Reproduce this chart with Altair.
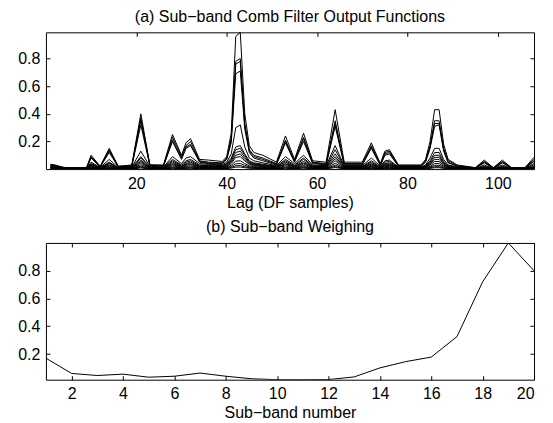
import altair as alt
import pandas as pd

FONT = "Liberation Sans"

# ---------------- panel (a): comb filter outputs ----------------
LAGS = [1, 2, 4, 8, 9, 10, 12, 14, 16, 19,
        21, 23, 26, 28, 30, 31, 32, 34, 36, 39,
        40, 41, 42, 43, 44, 45, 46, 48, 51, 53,
        55, 57, 59, 62, 64, 66, 70, 72, 74, 75,
        76, 78, 83, 84, 85, 86, 87, 88, 89, 91,
        95, 97, 99, 101, 103, 106, 108]

S1 = [0.035, 0.03, 0.012, 0.01, 0.012, 0.10, 0.02, 0.15, 0.02, 0.03,
      0.40, 0.03, 0.03, 0.25, 0.10, 0.19, 0.22, 0.07, 0.065, 0.055,
      0.09, 0.26, 0.96, 0.99, 0.40, 0.17, 0.12, 0.10, 0.05, 0.24,
      0.07, 0.26, 0.06, 0.05, 0.43, 0.05, 0.05, 0.19, 0.04, 0.13,
      0.14, 0.03, 0.03, 0.07, 0.20, 0.43, 0.43, 0.18, 0.07, 0.03,
      0.01, 0.065, 0.01, 0.065, 0.01, 0.01, 0.086]
S2 = [0.03, 0.025, 0.01, 0.008, 0.01, 0.09, 0.018, 0.14, 0.02, 0.025,
      0.37, 0.03, 0.025, 0.23, 0.09, 0.17, 0.20, 0.06, 0.05, 0.045,
      0.08, 0.22, 0.78, 0.80, 0.33, 0.14, 0.10, 0.08, 0.04, 0.21,
      0.06, 0.23, 0.05, 0.04, 0.35, 0.04, 0.04, 0.17, 0.035, 0.12,
      0.13, 0.025, 0.025, 0.06, 0.17, 0.35, 0.35, 0.15, 0.06, 0.025,
      0.01, 0.055, 0.01, 0.055, 0.01, 0.01, 0.07]
S3 = [0.028, 0.022, 0.01, 0.008, 0.01, 0.085, 0.017, 0.13, 0.018, 0.022,
      0.35, 0.028, 0.022, 0.21, 0.08, 0.16, 0.18, 0.055, 0.045, 0.04,
      0.075, 0.21, 0.76, 0.78, 0.32, 0.13, 0.09, 0.07, 0.035, 0.20,
      0.055, 0.22, 0.045, 0.035, 0.33, 0.035, 0.035, 0.16, 0.03, 0.11,
      0.12, 0.02, 0.02, 0.055, 0.16, 0.33, 0.33, 0.14, 0.05, 0.02,
      0.008, 0.05, 0.008, 0.05, 0.008, 0.008, 0.06]
S4 = [0.025, 0.02, 0.008, 0.006, 0.008, 0.08, 0.015, 0.12, 0.016, 0.02,
      0.32, 0.025, 0.02, 0.20, 0.07, 0.15, 0.17, 0.05, 0.04, 0.035,
      0.07, 0.19, 0.69, 0.71, 0.29, 0.12, 0.08, 0.06, 0.03, 0.19,
      0.05, 0.20, 0.04, 0.03, 0.31, 0.03, 0.03, 0.15, 0.025, 0.10,
      0.11, 0.02, 0.02, 0.05, 0.15, 0.31, 0.32, 0.13, 0.045, 0.02,
      0.007, 0.045, 0.007, 0.045, 0.007, 0.007, 0.055]
S5 = [0.02, 0.015, 0.006, 0.005, 0.006, 0.05, 0.012, 0.07, 0.012, 0.015,
      0.13, 0.02, 0.015, 0.09, 0.04, 0.08, 0.09, 0.04, 0.035, 0.03,
      0.05, 0.11, 0.30, 0.32, 0.16, 0.08, 0.06, 0.045, 0.025, 0.09,
      0.04, 0.10, 0.03, 0.025, 0.17, 0.025, 0.025, 0.08, 0.02, 0.06,
      0.065, 0.015, 0.015, 0.03, 0.08, 0.15, 0.15, 0.07, 0.03, 0.015,
      0.005, 0.03, 0.005, 0.03, 0.005, 0.005, 0.04]
S6 = [0.015, 0.012, 0.005, 0.004, 0.005, 0.04, 0.01, 0.05, 0.01, 0.012,
      0.09, 0.015, 0.012, 0.07, 0.03, 0.06, 0.07, 0.03, 0.03, 0.025,
      0.04, 0.08, 0.16, 0.17, 0.11, 0.06, 0.045, 0.035, 0.02, 0.07,
      0.03, 0.08, 0.025, 0.02, 0.14, 0.02, 0.02, 0.06, 0.015, 0.05,
      0.055, 0.012, 0.012, 0.025, 0.06, 0.12, 0.12, 0.055, 0.025, 0.012,
      0.004, 0.02, 0.004, 0.02, 0.004, 0.004, 0.03]
S7 = [0.012, 0.01, 0.004, 0.004, 0.004, 0.035, 0.008, 0.045, 0.008, 0.01,
      0.08, 0.012, 0.01, 0.06, 0.025, 0.05, 0.06, 0.025, 0.025, 0.02,
      0.035, 0.07, 0.14, 0.15, 0.10, 0.05, 0.04, 0.03, 0.018, 0.06,
      0.025, 0.07, 0.02, 0.018, 0.11, 0.018, 0.018, 0.05, 0.012, 0.04,
      0.045, 0.01, 0.01, 0.02, 0.05, 0.10, 0.10, 0.045, 0.02, 0.01,
      0.003, 0.015, 0.003, 0.015, 0.003, 0.003, 0.02]
S8 = [0.01, 0.008, 0.003, 0.003, 0.003, 0.03, 0.007, 0.04, 0.007, 0.008,
      0.065, 0.01, 0.008, 0.05, 0.02, 0.04, 0.05, 0.02, 0.02, 0.018,
      0.03, 0.06, 0.12, 0.13, 0.085, 0.045, 0.035, 0.025, 0.015, 0.05,
      0.02, 0.055, 0.018, 0.015, 0.09, 0.015, 0.015, 0.04, 0.01, 0.035,
      0.038, 0.008, 0.008, 0.018, 0.04, 0.085, 0.085, 0.04, 0.018, 0.008,
      0.003, 0.012, 0.003, 0.012, 0.003, 0.003, 0.015]
S9 = [0.008, 0.006, 0.003, 0.002, 0.003, 0.025, 0.006, 0.03, 0.006, 0.007,
      0.055, 0.008, 0.007, 0.04, 0.018, 0.035, 0.04, 0.018, 0.018, 0.015,
      0.025, 0.05, 0.10, 0.11, 0.07, 0.04, 0.03, 0.02, 0.012, 0.04,
      0.018, 0.045, 0.015, 0.012, 0.075, 0.012, 0.012, 0.035, 0.008, 0.03,
      0.032, 0.007, 0.007, 0.015, 0.035, 0.07, 0.07, 0.035, 0.015, 0.007,
      0.002, 0.01, 0.002, 0.01, 0.002, 0.002, 0.012]
S10 = [0.006, 0.005, 0.002, 0.002, 0.002, 0.02, 0.005, 0.025, 0.005, 0.006,
       0.045, 0.007, 0.006, 0.033, 0.015, 0.028, 0.033, 0.015, 0.015, 0.012,
       0.02, 0.04, 0.085, 0.09, 0.06, 0.033, 0.025, 0.017, 0.01, 0.033,
       0.015, 0.037, 0.012, 0.01, 0.06, 0.01, 0.01, 0.028, 0.007, 0.025,
       0.026, 0.006, 0.006, 0.012, 0.03, 0.055, 0.055, 0.028, 0.012, 0.006,
       0.002, 0.008, 0.002, 0.008, 0.002, 0.002, 0.01]
S11 = [0.005, 0.004, 0.002, 0.001, 0.002, 0.014, 0.004, 0.018, 0.004, 0.005,
       0.032, 0.005, 0.005, 0.024, 0.011, 0.02, 0.024, 0.011, 0.011, 0.009,
       0.015, 0.028, 0.057, 0.06, 0.04, 0.023, 0.018, 0.012, 0.007, 0.024,
       0.011, 0.026, 0.009, 0.007, 0.042, 0.007, 0.007, 0.02, 0.005, 0.018,
       0.019, 0.004, 0.004, 0.009, 0.02, 0.04, 0.04, 0.02, 0.009, 0.004,
       0.001, 0.006, 0.001, 0.006, 0.001, 0.001, 0.007]
S12 = [0.003, 0.003, 0.001, 0.001, 0.001, 0.01, 0.003, 0.012, 0.003, 0.003,
       0.022, 0.004, 0.003, 0.016, 0.008, 0.014, 0.016, 0.008, 0.008, 0.006,
       0.01, 0.019, 0.038, 0.04, 0.027, 0.016, 0.012, 0.008, 0.005, 0.016,
       0.008, 0.018, 0.006, 0.005, 0.028, 0.005, 0.005, 0.014, 0.004, 0.012,
       0.013, 0.003, 0.003, 0.006, 0.014, 0.027, 0.027, 0.014, 0.006, 0.003,
       0.001, 0.004, 0.001, 0.004, 0.001, 0.001, 0.005]
S13 = [0.002, 0.002, 0.001, 0.001, 0.001, 0.006, 0.002, 0.008, 0.002, 0.002,
       0.014, 0.002, 0.002, 0.01, 0.005, 0.009, 0.01, 0.005, 0.005, 0.004,
       0.006, 0.012, 0.024, 0.025, 0.017, 0.01, 0.008, 0.005, 0.003, 0.01,
       0.005, 0.011, 0.004, 0.003, 0.018, 0.003, 0.003, 0.009, 0.002, 0.008,
       0.008, 0.002, 0.002, 0.004, 0.009, 0.017, 0.017, 0.009, 0.004, 0.002,
       0.001, 0.003, 0.001, 0.003, 0.001, 0.001, 0.003]
S14 = [0.001, 0.001, 0.0, 0.0, 0.0, 0.004, 0.001, 0.005, 0.001, 0.001,
       0.008, 0.001, 0.001, 0.006, 0.003, 0.005, 0.006, 0.003, 0.003, 0.002,
       0.004, 0.007, 0.014, 0.015, 0.01, 0.006, 0.005, 0.003, 0.002, 0.006,
       0.003, 0.007, 0.002, 0.002, 0.011, 0.002, 0.002, 0.005, 0.001, 0.005,
       0.005, 0.001, 0.001, 0.002, 0.005, 0.01, 0.01, 0.005, 0.002, 0.001,
       0.0, 0.002, 0.0, 0.002, 0.0, 0.0, 0.002]

SERIES = [S1, S2, S3, S4, S5, S6, S7, S8, S9, S10, S11, S12, S13, S14]

LAG_TICKS = [20, 40, 60, 80, 100]
Y_TICKS = [0.2, 0.4, 0.6, 0.8]

# ---------------- panel (b): sub-band weighting ----------------
BANDS = [1, 2, 3, 4, 5, 6, 7, 8, 9, 10, 11, 12, 13, 14, 15, 16, 17, 18, 19, 20]
WEIGHTS = [0.17, 0.06, 0.045, 0.055, 0.033, 0.04, 0.063, 0.04, 0.022, 0.015,
           0.015, 0.016, 0.035, 0.10, 0.145, 0.178, 0.325, 0.72, 1.0, 0.8]
BAND_TICKS = [2, 4, 6, 8, 10, 12, 14, 16, 18, 20]

rows = []
for i, s in enumerate(SERIES):
    for lag, v in zip(LAGS, s):
        rows.append({"series": i + 1, "lag": lag, "value": v})
df_a = pd.DataFrame(rows)
df_b = pd.DataFrame({"band": BANDS, "weight": WEIGHTS})


def make_axis(orient, values, labels, fmt, title=None):
    return alt.Axis(orient=orient, values=values, labels=labels, format=fmt,
                    domain=False, grid=False, ticks=True, tickSize=4, offset=-4,
                    tickColor="black", tickWidth=1,
                    labelFont=FONT, labelFontSize=16, labelColor="black",
                    labelPadding=6, labelOverlap=False,
                    title=title, titleFont=FONT, titleFontSize=16,
                    titleFontWeight="normal", titleColor="black", titlePadding=3)


def panel(df, xf, yf, xdom, ydom, xticks, xfmt, xtitle, title, toff, detail=None):
    xs = alt.Scale(domain=xdom, nice=False, zero=False)
    ys = alt.Scale(domain=ydom, nice=False, zero=False)
    enc = dict(
        x=alt.X(f"{xf}:Q", scale=xs, axis=make_axis("bottom", xticks, True, xfmt, xtitle)),
        y=alt.Y(f"{yf}:Q", scale=ys, axis=make_axis("left", Y_TICKS, True, ".1f")),
    )
    if detail:
        enc["detail"] = alt.Detail(f"{detail}:N")
    lines = alt.Chart(df).mark_line(color="black", strokeWidth=1, clip=True).encode(**enc)
    ghost = alt.Chart(df).mark_line(strokeOpacity=0).encode(
        x=alt.X(f"{xf}:Q", scale=xs, axis=make_axis("top", xticks, False, xfmt)),
        y=alt.Y(f"{yf}:Q", scale=ys, axis=make_axis("right", Y_TICKS, False, ".1f")),
    )
    return alt.layer(lines, ghost).resolve_axis(x="independent", y="independent").properties(
        width=489, height=137,
        title=alt.TitleParams(text=title, font=FONT, fontSize=16, fontWeight="normal",
                              color="black", anchor="middle", offset=toff),
    )


top = panel(df_a, "lag", "value", [0, 108], [0, 0.99], LAG_TICKS, "d",
            "Lag (DF samples)", "(a) Sub\u2212band Comb Filter Output Functions", 7,
            detail="series")
bottom = panel(df_b, "band", "weight", [1, 20], [0.015, 1.0], BAND_TICKS, "d",
               "Sub\u2212band number", "(b) Sub\u2212band Weighing", 7)

chart = alt.vconcat(top, bottom, spacing=8).properties(
    padding={"left": 9, "top": 0, "right": 10, "bottom": 2},
    background="white",
).configure_view(stroke="black", strokeWidth=1)

chart.save("out.html", embed_options={"renderer": "svg", "actions": False})
